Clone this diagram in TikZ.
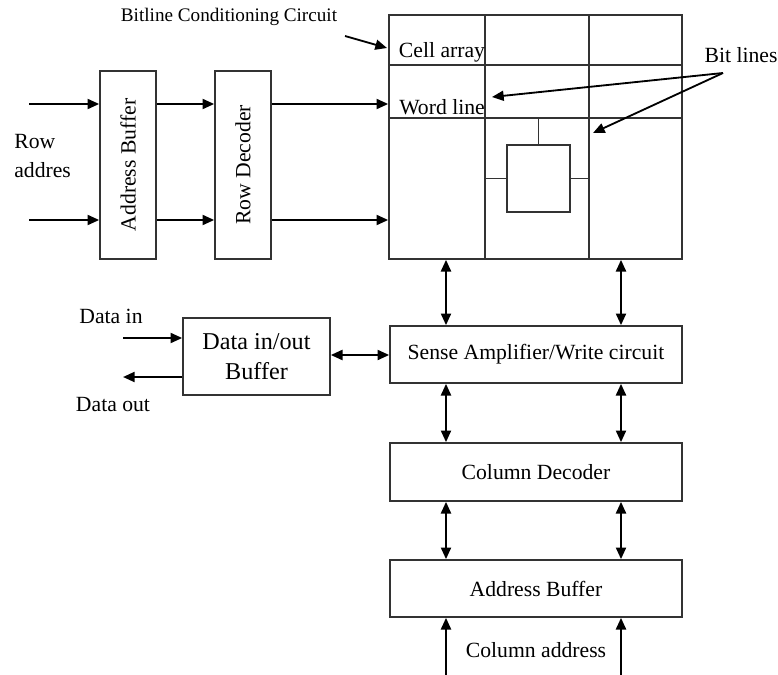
\documentclass[tikz,border=0pt]{standalone}
\usepackage{fontspec}
\setmainfont{Liberation Serif}
\usepackage{graphicx}
\usetikzlibrary{arrows.meta,positioning}
\begin{document}
\begin{tikzpicture}[x=0.6pt,y=-0.6pt,
	font=\fontsize{13}{15}\selectfont,
	blk/.style={draw=black!80, line width=1pt, inner sep=0pt},
	gridln/.style={black!80, line width=1pt},
	lbl/.style={inner sep=0pt},
	arr/.style={line width=1.3pt, -{Triangle[length=7pt,width=6pt]}},
	biarr/.style={line width=1.3pt, {Triangle[length=7pt,width=6pt]}-{Triangle[length=7pt,width=6pt]}}]
	\useasboundingbox (0,0) rectangle (778,675);
	% Row side
	\node[blk, minimum width=33.6pt, minimum height=112.8pt] (abuf) at (128,165) {\rotatebox{90}{Address Buffer}};
	\node[blk, minimum width=33.6pt, minimum height=112.8pt] (rdec) at (243,165) {\rotatebox{90}{Row Decoder}};
	\node[lbl, align=left, anchor=west] (rowlab) at (14,156) {Row\\[2pt]addres};
	\coordinate (ra1) at (29,104);
	\coordinate (ra2) at (29,220);
	% Cell array
	\node[blk, minimum width=175.8pt, minimum height=146.4pt] (cells) at (535.5,137) {};
	\draw[gridln] (389,65) -- (682,65);
	\draw[gridln] (389,118) -- (682,118);
	\draw[gridln] (485,15) -- (485,259);
	\draw[gridln] (589,15) -- (589,259);
	\node[blk, minimum width=37.8pt, minimum height=40.2pt] (cell) at (538.5,178.5) {};
	\draw[gridln] (cell.north) -- (cell.north |- 0,118);
	\draw[gridln] (cell.west) -- (cell.west -| 485,0);
	\draw[gridln] (cell.east) -- (cell.east -| 589,0);
	\node[lbl] (calab) at (442,52) {Cell array};
	\node[lbl] (wllab) at (442,107) {Word line};
	% Labels with pointers
	\node[lbl, font=\fontsize{11.5}{13}\selectfont] (bcclab) at (229,17) {Bitline Conditioning Circuit};
	\coordinate (bccsrc) at (345,36);
	\coordinate (bccdst) at (387,48);
	\node[lbl] (bitlab) at (741,55) {Bit lines};
	\coordinate (bitsrc) at (723,73);
	\coordinate (wlend) at (492,97);
	\coordinate (blend) at (593,133);
	% Column side
	\node[blk, minimum width=175.2pt, minimum height=34.2pt] (sense) at (536,354.5) {Sense Amplifier/Write circuit};
	\node[blk, minimum width=175.2pt, minimum height=34.8pt] (cdec) at (536,472) {Column Decoder};
	\node[blk, minimum width=175.2pt, minimum height=34.2pt] (cbuf) at (536,588.5) {Address Buffer};
	\node[lbl] (calab2) at (536,650) {Column address};
	\coordinate (colA) at (446,675);
	\coordinate (colB) at (621,675);
	% Data buffer
	\node[blk, minimum width=88.2pt, minimum height=46.2pt, align=center, font=\fontsize{14.5}{18}\selectfont] (dbuf) at (256.5,356.5) {Data in/out\\Buffer};
	\node[lbl] (dinlab) at (111,316) {Data in};
	\node[lbl] (doutlab) at (113,405) {Data out};
	\coordinate (din) at (123,338);
	\coordinate (dout) at (123,377);
	% Connectors
	\draw[arr] (ra1) -- (abuf.west |- ra1);
	\draw[arr] (ra2) -- (abuf.west |- ra2);
	\draw[arr] (abuf.east |- ra1) -- (rdec.west |- ra1);
	\draw[arr] (abuf.east |- ra2) -- (rdec.west |- ra2);
	\draw[arr] (rdec.east |- ra1) -- (cells.west |- ra1);
	\draw[arr] (rdec.east |- ra2) -- (cells.west |- ra2);
	\draw[arr, line width=1.1pt] (bccsrc) -- (bccdst);
	\draw[arr, line width=1.1pt] (bitsrc) -- (wlend);
	\draw[arr, line width=1.1pt] (bitsrc) -- (blend);
	\draw[biarr] (cells.south -| colA) -- (sense.north -| colA);
	\draw[biarr] (cells.south -| colB) -- (sense.north -| colB);
	\draw[biarr] (sense.south -| colA) -- (cdec.north -| colA);
	\draw[biarr] (sense.south -| colB) -- (cdec.north -| colB);
	\draw[biarr] (cdec.south -| colA) -- (cbuf.north -| colA);
	\draw[biarr] (cdec.south -| colB) -- (cbuf.north -| colB);
	\draw[arr] (colA) -- (cbuf.south -| colA);
	\draw[arr] (colB) -- (cbuf.south -| colB);
	\draw[arr] (din) -- (dbuf.west |- din);
	\draw[arr] (dbuf.west |- dout) -- (dout);
	\draw[biarr] (dbuf.east |- 0,355) -- (sense.west |- 0,355);
\end{tikzpicture}
\end{document}
